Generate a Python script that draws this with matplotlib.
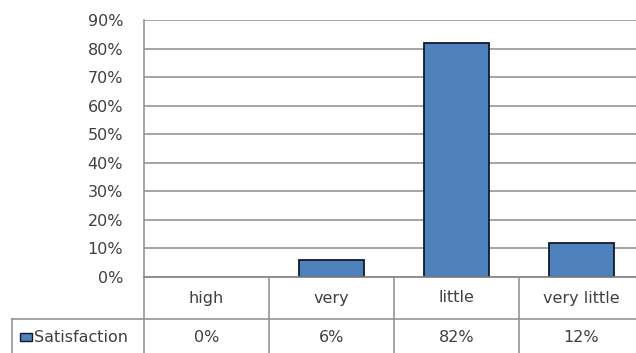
import matplotlib.pyplot as plt
from matplotlib.lines import Line2D
from matplotlib.patches import Rectangle

categories = ['high', 'very', 'little', 'very little']
satisfaction = [0, 6, 82, 12]
series_name = 'Satisfaction'
yticks = list(range(0, 91, 10))

W, H = 636, 353
fig = plt.figure(figsize=(W / 100, H / 100), dpi=100)

# plot area in pixels: left 144, top 20, bottom 277, column width ~125
left, top, bottom, colw = 144, 20, 277, 125
ax = fig.add_axes([left / W, (H - bottom) / H, colw * len(categories) / W, (bottom - top) / H])

blue = '#4f81bd'
grid = '#8c8c8c'
txt = '#404040'
font = 'DejaVu Sans'
fs = 11.5

x = range(len(categories))
edge_w = [1.3 if v > 0 else 0 for v in satisfaction]
ax.bar(x, satisfaction, width=0.52, color=blue, edgecolor='#0d1a30', linewidth=edge_w, zorder=3)
ax.set_xlim(-0.5, len(categories) - 0.5)
ax.set_ylim(0, 90)
ax.set_yticks(yticks)
ax.set_yticklabels([f'{t}%' for t in yticks], fontsize=fs, color=txt, family=font)
ax.tick_params(axis='y', length=0, pad=15)
ax.set_xticks([])
ax.yaxis.grid(True, color=grid, linewidth=1.1, zorder=0)
for s in ['top', 'right']:
    ax.spines[s].set_visible(False)
for s in ['left', 'bottom']:
    ax.spines[s].set_color(grid)
    ax.spines[s].set_linewidth(1.1)


def fx(px):
    return px / W


def fy(py):
    return 1 - py / H


row1 = 319
# data table lines
lines = [
    ((left, W + 20), (bottom, bottom)),
    ((12, W + 20), (row1, row1)),
    ((left, left), (bottom, H + 5)),
    ((12, 12), (row1, H + 5)),
]
for i in range(1, len(categories) + 1):
    xp = left + i * colw
    lines.append(((xp, xp), (bottom, H + 5)))
for (xs, ys) in lines:
    fig.add_artist(Line2D([fx(v) for v in xs], [fy(v) for v in ys], color=grid, linewidth=1.1))

for i, (c, v) in enumerate(zip(categories, satisfaction)):
    cx = left + (i + 0.5) * colw
    fig.text(fx(cx), fy(298), c, ha='center', va='center', fontsize=fs, color=txt, family=font)
    fig.text(fx(cx), fy(337), f'{v}%', ha='center', va='center', fontsize=fs, color=txt, family=font)

# legend key in the table's row header
fig.add_artist(Rectangle((fx(20), fy(341)), 12 / W, 8 / H, facecolor=blue, edgecolor='#0d1a30', linewidth=1.0))
fig.text(fx(34), fy(337), series_name, ha='left', va='center', fontsize=fs, color=txt, family=font)

fig.savefig('out.png', dpi=100)
